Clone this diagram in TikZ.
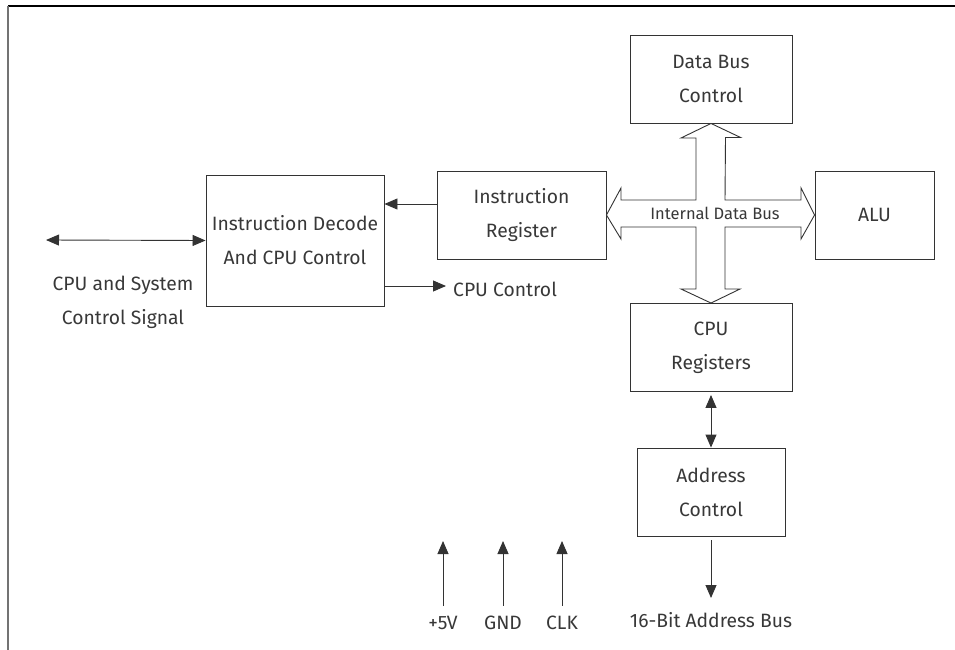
\documentclass[tikz,border=0pt]{standalone}
\usepackage{fontspec}
\setmainfont{Fira Sans}
\usetikzlibrary{arrows.meta,calc}
\begin{document}
\begin{tikzpicture}[x=1pt,y=-1pt,
  txt/.style={font=\fontsize{19.3}{34}\selectfont, text=black!78, inner sep=0pt},
  blk/.style={draw=black!80, line width=0.9pt, txt, align=center, inner sep=0pt},
  tip/.style={-{Triangle[length=13pt,width=11pt]}},
  dtip/.style={{Triangle[length=13pt,width=11pt]}-{Triangle[length=13pt,width=11pt]}},
  wire/.style={draw=black!80, line width=0.9pt}
]
\useasboundingbox (0,0) rectangle (955,650);
% frame
\draw[black, line width=1.3pt] (8,6) -- (955,6);
\draw[black!55, line width=1.6pt] (8,6) -- (8,650);
% blocks
\node[blk, minimum width=162pt, minimum height=88pt] (dbc) at (711,79) {Data Bus\\Control};
\node[blk, minimum width=169pt, minimum height=88pt] (ir) at (521.5,215) {Instruction\\Register};
\node[blk, minimum width=178pt, minimum height=131pt] (id) at (295,240.5) {Instruction Decode\\And CPU Control};
\node[blk, minimum width=119pt, minimum height=88pt] (alu) at (874.5,215) {ALU};
\node[blk, minimum width=162pt, minimum height=88pt] (reg) at (711,347.5) {CPU\\Registers};
\node[blk, minimum width=148pt, minimum height=88pt] (addr) at (711,492) {Address\\Control};
% internal data bus cross arrow
\draw[wire, fill=white]
  (dbc.south) -- ++(29.5,14) -- ++(-15,0) -- (725,200) -- (801,200) -- ++(0,-12)
  -- (alu.west) -- (801,239) -- ++(0,-12) -- (725,227) -- (725,289) -- ++(15,0)
  -- (reg.north) -- (681,289) -- ++(15,0) -- (696,227) -- (621,227) -- ++(0,12)
  -- (ir.east) -- (621,188) -- ++(0,12) -- (696,200) -- (696,138) -- ++(-15,0) -- cycle;
\node[txt, font=\fontsize{16.5}{18}\selectfont] (idb) at (715,213.5) {Internal Data Bus};
% labels
\node[txt, anchor=west] (cc) at (453,289) {CPU Control};
\node[txt, align=center] (sig) at (123,302.5) {CPU and System\\Control Signal};
\node[txt] (p5) at (443,623) {+5V};
\node[txt] (gnd) at (503,623) {GND};
\node[txt] (clk) at (562,623) {CLK};
\node[txt] (ab) at (711,620) {16-Bit Address Bus};
\coordinate (sigend) at (46,240);
\coordinate (p5t) at (443,541);
\coordinate (gndt) at (503,541);
\coordinate (clkt) at (562,541);
\coordinate (abt) at (711,598);
% connectors
\draw[wire, tip] ($(ir.west)+(0,-11)$) -- ($(id.east)+(0,-36.5)$);
\draw[wire, tip] ($(id.east)+(0,45.5)$) -- ($(cc.west)+(-7,-3)$);
\draw[wire, dtip] (sigend) -- (id.west);
\draw[wire, dtip] ($(reg.south)+(0,3)$) -- (addr.north);
\draw[wire, tip] ($(addr.south)+(0,4)$) -- (abt);
\draw[wire, tip] ($(p5.north)+(0,-10)$) -- (p5t);
\draw[wire, tip] ($(gnd.north)+(0,-10)$) -- (gndt);
\draw[wire, tip] ($(clk.north)+(0,-10)$) -- (clkt);
\end{tikzpicture}
\end{document}
